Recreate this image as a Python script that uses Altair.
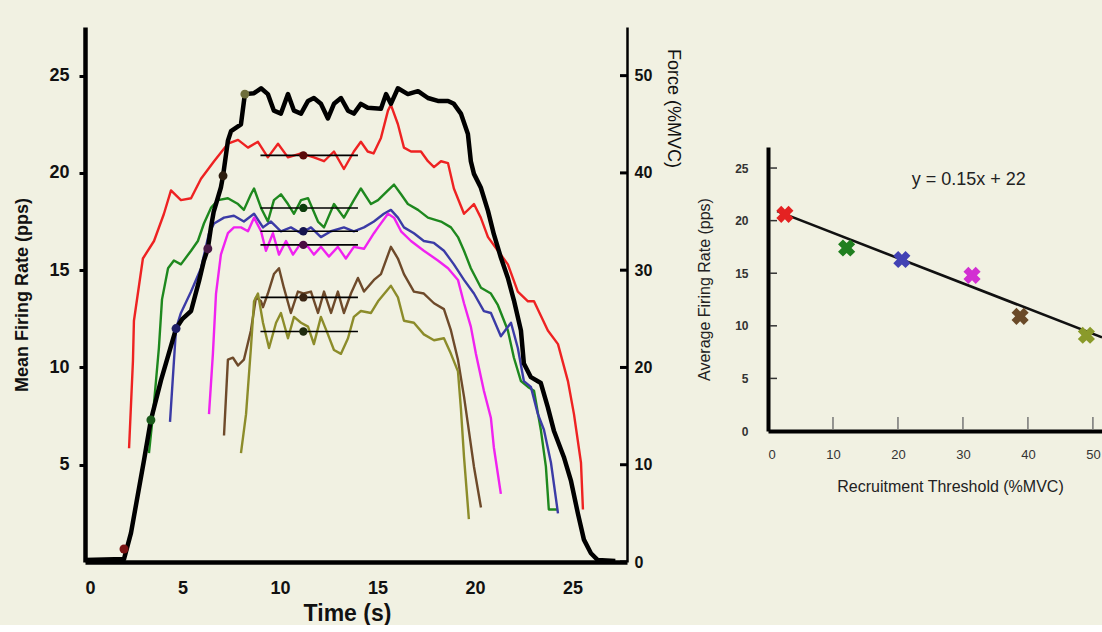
import altair as alt
import pandas as pd

# ---------------- Left panel data ----------------
# Force trace (%MVC), right axis
force_t = [0, 2.0, 2.36, 3.03, 3.38, 3.9, 4.67, 5.0, 5.44, 5.85, 6.1, 6.3, 6.46, 6.6, 6.97, 7.08,
           7.33, 7.49, 8.0, 8.2, 8.67, 9.03, 9.38, 9.69, 10.05, 10.41, 10.72, 11.08, 11.44, 11.74,
           12.1, 12.46, 12.77, 13.13, 13.49, 13.79, 14.15, 14.5, 15.18, 15.44, 15.69, 16.05, 16.56,
           17.08, 17.59, 18.1, 18.62, 18.92, 19.28, 19.64, 19.79, 19.95, 20.3, 20.67, 20.97, 21.33,
           21.69, 22.0, 22.36, 22.51, 22.87, 23.38, 23.74, 24.05, 24.56, 24.92, 25.28, 25.59, 25.95,
           26.3, 27.2]
force_v = [0.2, 0.3, 3.0, 10.5, 14.6, 18.7, 24.0, 25.0, 25.8, 28.9, 31.0, 32.2, 34.4, 36.0, 38.5, 39.7,
           43.3, 44.3, 45.0, 48.1, 48.2, 48.7, 48.1, 46.4, 46.1, 48.1, 46.4, 46.1, 47.4, 47.7,
           47.1, 45.6, 47.1, 47.7, 46.4, 46.1, 47.1, 46.7, 46.6, 48.1, 47.1, 48.7, 48.1,
           48.4, 47.7, 47.4, 47.4, 47.1, 46.1, 44.0, 41.2, 39.9, 38.5, 36.1, 33.7, 31.3,
           29.2, 26.9, 23.8, 20.4, 19.0, 18.4, 15.9, 13.5, 10.8, 8.4, 5.0, 2.3, 0.9,
           0.2, 0.1]

# Motor unit mean firing rates (pps)
red_t = [2.26, 2.46, 2.51, 2.97, 3.54, 4.05, 4.41, 4.92, 5.44, 5.95, 6.62, 7.33, 7.85, 8.36, 8.87,
         9.38, 9.9, 10.41, 11.08, 11.74, 12.26, 12.77, 13.28, 13.79, 14.15, 14.5, 14.8, 15.18, 15.54,
         15.69, 16.05, 16.36, 16.72, 17.23, 17.59, 17.9, 18.26, 18.62, 18.92, 19.44, 19.95, 20.3,
         20.67, 21.18, 21.69, 22.2, 22.72, 23.03, 23.74, 24.26, 24.77, 25.08, 25.44, 25.54]
red_r = [5.85, 10.36, 12.4, 15.6, 16.5, 17.9, 19.1, 18.6, 18.7, 19.7, 20.6, 21.5, 21.7, 21.3, 21.6,
         20.8, 21.5, 20.8, 21.0, 20.8, 20.6, 21.1, 20.2, 21.1, 21.6, 21.1, 21.0, 21.8, 23.2,
         23.5, 22.5, 21.3, 21.1, 21.1, 20.6, 20.3, 20.6, 20.5, 19.2, 17.9, 18.4, 17.7,
         16.7, 16.0, 15.3, 13.9, 13.4, 13.4, 11.9, 11.2, 9.3, 7.6, 5.1, 2.7]

green_t = [3.28, 3.49, 3.79, 3.95, 4.26, 4.56, 4.92, 5.44, 5.79, 6.1, 6.46, 6.82, 7.33, 7.85, 8.15,
           8.51, 8.67, 9.03, 9.38, 9.69, 10.05, 10.41, 10.72, 11.08, 11.44, 11.95, 12.26, 12.77,
           13.28, 13.79, 14.15, 14.67, 15.03, 15.54, 15.85, 16.21, 16.56, 17.08, 17.59, 18.26,
           18.77, 19.13, 19.44, 19.79, 20.31, 20.82, 21.18, 21.69, 22.0, 22.36, 22.72, 23.03,
           23.38, 23.64, 23.79, 24.26]
green_r = [5.6, 7.6, 11.0, 13.5, 15.1, 15.5, 15.3, 16.0, 16.5, 17.4, 18.2, 18.6, 18.7, 18.4, 18.1,
           18.9, 19.2, 18.2, 17.5, 18.6, 18.9, 18.4, 17.9, 18.6, 18.7, 17.5, 17.2, 18.4,
           17.7, 18.6, 19.2, 18.4, 18.6, 19.1, 19.4, 18.9, 18.4, 18.1, 17.7, 17.5,
           17.2, 16.7, 16.0, 15.1, 14.1, 13.8, 13.2, 11.9, 10.5, 9.3, 9.0, 8.8,
           6.8, 4.9, 2.7, 2.7]

blue_t = [4.36, 4.67, 4.92, 5.44, 5.95, 6.36, 6.62, 7.13, 7.64, 8.15, 8.67, 9.13, 9.54, 10.05, 10.56,
          11.08, 11.59, 12.1, 12.62, 13.28, 13.79, 14.31, 14.82, 15.33, 15.69, 16.05, 16.36, 16.87,
          17.38, 17.9, 18.41, 18.92, 19.44, 19.95, 20.46, 20.82, 21.33, 21.85, 22.2, 22.51, 22.87,
          23.23, 23.54, 23.9, 24.26]
blue_r = [7.2, 12.0, 12.8, 13.9, 15.1, 16.9, 17.4, 17.7, 17.8, 17.5, 17.9, 17.2, 17.5, 17.0, 17.2,
          16.9, 17.2, 16.7, 17.0, 17.2, 17.0, 17.2, 17.5, 17.9, 18.1, 17.7, 17.2, 16.9,
          16.5, 16.4, 16.0, 15.3, 14.5, 13.8, 12.9, 12.8, 11.6, 12.3, 11.0, 9.3, 9.0,
          7.6, 6.8, 5.1, 2.5]

magenta_t = [6.36, 6.56, 6.72, 6.97, 7.33, 7.64, 8.0, 8.36, 8.67, 9.03, 9.28, 9.64, 9.95, 10.31,
             10.67, 11.08, 11.44, 11.74, 12.1, 12.51, 12.97, 13.38, 13.79, 14.31, 14.82, 15.03,
             15.54, 15.85, 16.21, 16.72, 17.38, 18.1, 18.62, 19.13, 19.44, 19.79, 20.05, 20.46,
             20.82, 20.97, 21.33]
magenta_r = [7.6, 10.7, 13.8, 15.8, 16.9, 17.2, 17.2, 17.0, 17.7, 17.0, 16.0, 16.9, 15.8, 16.5,
             15.8, 16.4, 16.2, 15.8, 16.2, 15.7, 16.2, 15.6, 16.2, 16.1, 16.9, 17.2,
             17.9, 17.7, 17.0, 16.5, 16.0, 15.5, 15.1, 14.5, 13.3, 12.1, 10.7, 8.8,
             7.4, 5.9, 3.5]

brown_t = [7.13, 7.33, 7.59, 7.85, 8.15, 8.51, 8.77, 9.03, 9.13, 9.38, 9.69, 9.95, 10.2, 10.56, 10.92,
           11.23, 11.59, 11.95, 12.26, 12.62, 12.97, 13.28, 13.64, 14.0, 14.31, 14.82, 15.18, 15.69,
           16.05, 16.36, 16.87, 17.38, 17.9, 18.41, 18.77, 19.13, 19.44, 19.64, 19.95, 20.31]
brown_r = [6.5, 10.4, 10.5, 10.1, 10.4, 11.9, 13.6, 13.4, 13.1, 13.8, 14.8, 15.1, 14.1, 12.8, 13.9,
           13.8, 13.9, 12.8, 13.9, 12.8, 13.9, 12.8, 13.8, 14.6, 13.9, 14.5, 14.8, 16.2,
           15.6, 14.8, 13.9, 13.8, 13.3, 13.0, 11.9, 10.4, 8.5, 7.1, 4.9, 2.8]

olive_t = [8.0, 8.26, 8.51, 8.67, 8.87, 9.13, 9.44, 9.8, 10.05, 10.41, 10.72, 11.08, 11.44, 11.74,
           12.1, 12.46, 12.77, 13.13, 13.49, 13.79, 14.15, 14.67, 15.03, 15.69, 16.05, 16.36,
           16.87, 17.38, 17.9, 18.41, 18.77, 19.13, 19.28, 19.44, 19.69]
olive_r = [5.6, 7.6, 11.0, 13.4, 13.8, 12.3, 11.0, 12.3, 12.8, 11.5, 12.6, 12.3, 12.1, 11.2,
           12.6, 11.7, 10.9, 10.7, 11.5, 12.6, 12.9, 12.8, 13.4, 14.2, 13.6, 12.4,
           12.3, 11.7, 11.4, 11.5, 10.7, 9.8, 7.9, 5.4, 2.2]

units = ["red", "green", "blue", "magenta", "brown", "olive"]

# Recruitment points on the force trace (time, rate)
recruit_t = [2.0, 3.38, 4.67, 6.3, 7.08, 8.2]
recruit_r = [0.67, 7.3, 12.0, 16.1, 19.85, 24.05]

# Mean firing rate over steady window
mean_level = [20.9, 18.2, 17.0, 16.3, 13.6, 11.85]
mean_t = [11.2, 11.2, 11.2, 11.2, 11.2, 11.2]
window_start = [9.0, 9.0, 9.0, 9.0, 9.0, 9.0]
window_end = [14.0, 14.0, 14.0, 14.0, 14.0, 14.0]

force_ticks = [0, 10, 20, 30, 40, 50]

# ---------------- Right panel data ----------------
thresh_x = [2.6, 12.1, 20.6, 31.4, 38.8, 49.0]
avg_rate = [20.6, 17.4, 16.3, 14.8, 10.9, 9.1]
fit_x = [1.4, 51.4]
fit_y = [20.9, 8.9]
eq_label = ["y =  0.15x + 22"]
eq_x = [30.9]
eq_y = [23.9]
rx_ticks = [10, 20, 30, 40, 50]
ry_ticks = [5, 10, 15, 20, 25]

# ---------------- Styles ----------------
line_colors = ["#EE2222", "#1E881E", "#3B3BA6", "#F022F0", "#6E4A2A", "#8C8C2A"]
recruit_colors = ["#7A1414", "#1A5A1A", "#1E1E66", "#4A1A46", "#2E1E10", "#6E6E3A"]
mean_colors = ["#5A0A0A", "#0D3D0D", "#14144E", "#4A0D42", "#3A2512", "#1E2A0E"]
marker_colors = ["#E42222", "#1F7F1F", "#4242B4", "#D22FD2", "#6A4A28", "#8A9A2A"]
BG = "#F1F1E2"
FONT = "Liberation Sans"

# ---------------- Build tables ----------------
rows = []
for name, ts, rs in [("red", red_t, red_r), ("green", green_t, green_r), ("blue", blue_t, blue_r),
                     ("magenta", magenta_t, magenta_r), ("brown", brown_t, brown_r),
                     ("olive", olive_t, olive_r)]:
    for t, r in zip(ts, rs):
        rows.append({"unit": name, "t": t, "rate": r})
rates_df = pd.DataFrame(rows)
force_df = pd.DataFrame({"t": force_t, "force": force_v})
recruit_df = pd.DataFrame({"unit": units, "t": recruit_t, "rate": recruit_r})
mean_df = pd.DataFrame({"unit": units, "t": window_start, "t_end": window_end,
                        "tm": mean_t, "rate": mean_level})
ftick_df = pd.DataFrame({"force": force_ticks})

scatter_df = pd.DataFrame({"unit": units, "x": thresh_x, "y": avg_rate})
fit_df = pd.DataFrame({"x": fit_x, "y": fit_y})
eq_df = pd.DataFrame({"label": eq_label, "x": eq_x, "y": eq_y})
rxt_df = pd.DataFrame({"x": rx_ticks})
ryt_df = pd.DataFrame({"y": ry_ticks})

# ---------------- Left panel ----------------
LW, LH = 542, 535
x_scale = alt.Scale(domain=[0, 27.8], nice=False, zero=False)
rate_scale = alt.Scale(domain=[0, 27.5], nice=False)
force_scale = alt.Scale(domain=[0, 55], nice=False)

x_axis = alt.Axis(values=[0, 5, 10, 15, 20, 25], title="Time (s)", ticks=False,
                  domainColor="black", domainWidth=4.5, labelFont=FONT, labelFontSize=18,
                  labelFontWeight="bold", labelColor="#111", labelPadding=17,
                  titleFont=FONT, titleFontSize=23, titleFontWeight="bold", titleColor="#111",
                  titleBaseline="alphabetic", titleY=58, titleX=262, grid=False)
X = alt.X("t:Q", scale=x_scale, axis=x_axis)

rates = alt.Chart(rates_df).mark_line(strokeWidth=2.4, strokeJoin="round").encode(
    x=X,
    y=alt.Y("rate:Q", scale=rate_scale,
            axis=alt.Axis(orient="left", values=[5, 10, 15, 20, 25], title="Mean Firing Rate (pps)",
                          domainColor="black", domainWidth=4.5, tickColor="black", tickWidth=3,
                          tickSize=6, labelFont=FONT, labelFontSize=18, labelFontWeight="bold",
                          labelColor="#111", labelPadding=10, titleFont=FONT, titleFontSize=18,
                          titleFontWeight="bold", titleColor="#111", titlePadding=17, grid=False)),
    color=alt.Color("unit:N", scale=alt.Scale(domain=units, range=line_colors), legend=None),
)

force_line = alt.Chart(force_df).mark_line(color="black", strokeWidth=4.5, strokeJoin="round").encode(
    x=X,
    y=alt.Y("force:Q", scale=force_scale,
            axis=alt.Axis(orient="right", values=force_ticks, title="Force (%MVC)", ticks=False,
                          domainColor="black", domainWidth=2.5, labelFont=FONT, labelFontSize=16,
                          labelFontWeight="bold", labelColor="#111", labelPadding=7,
                          titleFont=FONT, titleFontSize=18, titleFontWeight="normal",
                          titleColor="#111", titleAngle=90, titleY=81, titlePadding=12, grid=False)),
)
force_tick_marks = alt.Chart(ftick_df).mark_rule(color="black", strokeWidth=3).encode(
    y=alt.Y("force:Q", scale=force_scale),
    x=alt.value(LW - 7), x2=alt.value(LW),
)
force_layer = alt.layer(force_line, force_tick_marks)

mean_rules = alt.Chart(mean_df).mark_rule(color="black", strokeWidth=1.6).encode(
    x=X, x2="t_end:Q",
    y=alt.Y("rate:Q", scale=rate_scale, axis=None),
)
mean_dots = alt.Chart(mean_df).mark_circle(size=70, opacity=1).encode(
    x=alt.X("tm:Q", scale=x_scale, axis=x_axis, title="Time (s)"),
    y=alt.Y("rate:Q", scale=rate_scale, axis=None),
    color=alt.Color("unit:N", scale=alt.Scale(domain=units, range=mean_colors), legend=None),
)
recruit_dots = alt.Chart(recruit_df).mark_circle(size=80, opacity=1).encode(
    x=X,
    y=alt.Y("rate:Q", scale=rate_scale, axis=None),
    color=alt.Color("unit:N", scale=alt.Scale(domain=units, range=recruit_colors), legend=None),
)
overlay = alt.layer(mean_rules, mean_dots, recruit_dots).resolve_scale(color="independent")

left = alt.layer(rates, force_layer, overlay).resolve_scale(
    y="independent", color="independent").properties(width=LW, height=LH)

# ---------------- Right panel ----------------
RW, RH = 334, 284
rx = alt.Scale(domain=[0, 51.4], nice=False, zero=False)
ry = alt.Scale(domain=[0, 27], nice=False)
RX = alt.X("x:Q", scale=rx,
           axis=alt.Axis(values=[0, 10, 20, 30, 40, 50], title="Recruitment Threshold (%MVC)",
                         ticks=False, domainColor="black", domainWidth=4, labelFont=FONT,
                         labelFontSize=13, labelColor="#333", labelPadding=17, titleFont=FONT,
                         titleFontSize=16, titleFontWeight="normal", titleColor="#222",
                         titlePadding=17, titleX=182, grid=False))
RY = alt.Y("y:Q", scale=ry,
           axis=alt.Axis(values=[0, 5, 10, 15, 20, 25], title="Average Firing Rate (pps)",
                         ticks=False, domainColor="black", domainWidth=4, labelFont=FONT,
                         labelFontSize=12, labelFontWeight="bold", labelColor="#333",
                         labelPadding=20, titleFont=FONT, titleFontSize=16,
                         titleFontWeight="normal", titleColor="#222", titlePadding=22, grid=False))

fit_line = alt.Chart(fit_df).mark_line(color="#111", strokeWidth=2.6, clip=True).encode(x=RX, y=RY)
markers = alt.Chart(scatter_df).mark_point(shape="cross", angle=45, filled=True, size=300,
                                           opacity=1).encode(
    x=RX, y=RY,
    color=alt.Color("unit:N", scale=alt.Scale(domain=units, range=marker_colors), legend=None),
)
eq_text = alt.Chart(eq_df).mark_text(font=FONT, fontSize=18, color="#222").encode(
    x=RX, y=RY, text="label:N")
x_inticks = alt.Chart(rxt_df).mark_rule(color="#777", strokeWidth=1.5).encode(
    x=RX, y=alt.value(RH - 2), y2=alt.value(RH - 14))
y_inticks = alt.Chart(ryt_df).mark_rule(color="#333", strokeWidth=1.5).encode(
    y=RY, x=alt.value(2), x2=alt.value(9))

right = alt.layer(x_inticks, y_inticks, fit_line, markers, eq_text).properties(width=RW, height=RH)

spacer = alt.Chart(pd.DataFrame({"v": [0]})).mark_point(opacity=0).encode(
    x=alt.X("v:Q", axis=None), y=alt.Y("v:Q", axis=None)).properties(width=RW, height=120)

right_col = alt.vconcat(spacer, right, spacing=0)

chart = alt.hconcat(left, right_col, spacing=14).properties(
    padding={"left": 13, "top": 27, "right": 0, "bottom": 0},
    background=BG,
).configure_view(stroke=None)

chart.save("out.html", embed_options={"renderer": "svg", "actions": False})
